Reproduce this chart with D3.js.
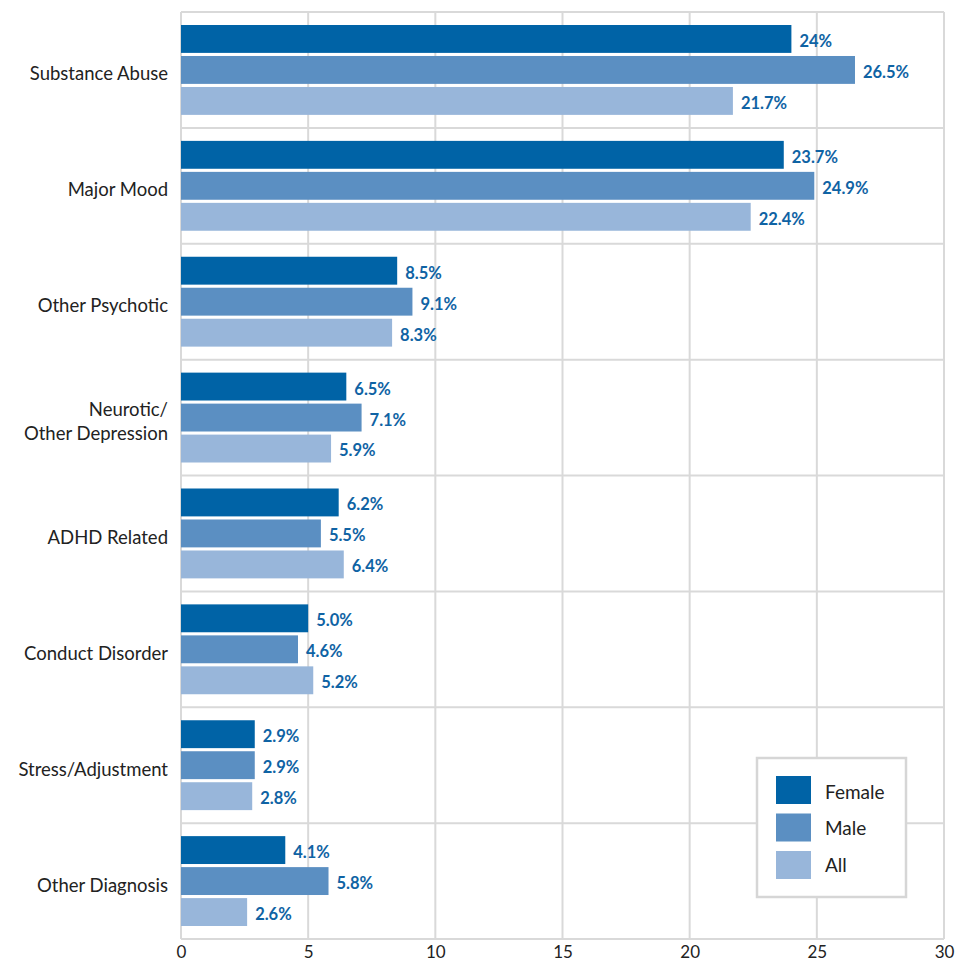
<!DOCTYPE html>
<html>
<head>
<meta charset="utf-8">
<script src="https://cdn.jsdelivr.net/npm/d3@7"></script>
<style>
  html, body { margin: 0; padding: 0; background: #fff; }
  svg text { font-family: Lato, "Open Sans", sans-serif; }
</style>
</head>
<body>
<svg id="chart" width="958" height="966"></svg>
<script>
// Diagnosis categories, top to bottom
const categories = [
  "Substance Abuse", "Major Mood", "Other Psychotic", "Neurotic/\nOther Depression",
  "ADHD Related", "Conduct Disorder", "Stress/Adjustment", "Other Diagnosis"
];
const seriesNames = ["Female", "Male", "All"];
const female = [24, 23.7, 8.5, 6.5, 6.2, 5.0, 2.9, 4.1];
const male   = [26.5, 24.9, 9.1, 7.1, 5.5, 4.6, 2.9, 5.8];
const all    = [21.7, 22.4, 8.3, 5.9, 6.4, 5.2, 2.8, 2.6];
const femaleLabels = ["24%", "23.7%", "8.5%", "6.5%", "6.2%", "5.0%", "2.9%", "4.1%"];
const maleLabels   = ["26.5%", "24.9%", "9.1%", "7.1%", "5.5%", "4.6%", "2.9%", "5.8%"];
const allLabels    = ["21.7%", "22.4%", "8.3%", "5.9%", "6.4%", "5.2%", "2.8%", "2.6%"];
const xTicks = [0, 5, 10, 15, 20, 25, 30];

const colors = ["#0063a6", "#5b8fc2", "#98b6da"];
const series = [
  { name: seriesNames[0], values: female, labels: femaleLabels },
  { name: seriesNames[1], values: male, labels: maleLabels },
  { name: seriesNames[2], values: all, labels: allLabels }
];

const svg = d3.select("#chart");
const plotLeft = 181, plotRight = 944, plotTop = 12, plotBottom = 939;

const x = d3.scaleLinear().domain([0, 30]).range([plotLeft, plotRight]);
const y = d3.scaleBand().domain(categories).range([plotTop, plotBottom]);
const inner = d3.scaleBand().domain(seriesNames)
  .range([13, y.bandwidth() - 13]).paddingInner(0.1);

const grid = "#d9d9d9";

// vertical gridlines
svg.append("g").selectAll("line").data(xTicks).join("line")
  .attr("x1", d => x(d)).attr("x2", d => x(d))
  .attr("y1", plotTop).attr("y2", plotBottom)
  .attr("stroke", grid).attr("stroke-width", 2);

// horizontal category separators (including top and bottom)
const seps = categories.map(c => y(c)).concat([plotBottom]);
svg.append("g").selectAll("line").data(seps).join("line")
  .attr("x1", plotLeft).attr("x2", plotRight)
  .attr("y1", d => d).attr("y2", d => d)
  .attr("stroke", grid).attr("stroke-width", 2);

// bars and value labels
series.forEach((s, si) => {
  const g = svg.append("g");
  g.selectAll("rect").data(s.values).join("rect")
    .attr("x", x(0))
    .attr("y", (d, i) => y(categories[i]) + inner(s.name))
    .attr("width", d => x(d) - x(0))
    .attr("height", inner.bandwidth())
    .attr("fill", colors[si]);
  g.selectAll("text").data(s.values).join("text")
    .attr("x", d => x(d) + 8)
    .attr("y", (d, i) => y(categories[i]) + inner(s.name) + inner.bandwidth() / 2 + 2)
    .attr("dy", "0.36em")
    .attr("font-size", 16.5)
    .attr("font-weight", "bold")
    .attr("fill", "#0f63a4")
    .text((d, i) => s.labels[i]);
});

// category labels
const catG = svg.append("g");
categories.forEach(c => {
  const lines = c.split("\n");
  const cy = y(c) + y.bandwidth() / 2 + 4;
  const lh = 24;
  const t = catG.append("text")
    .attr("text-anchor", "end")
    .attr("font-size", 18.5)
    .attr("fill", "#222");
  lines.forEach((ln, i) => {
    t.append("tspan")
      .attr("x", 168)
      .attr("y", cy + (i - (lines.length - 1) / 2) * lh)
      .attr("dy", "0.35em")
      .text(ln);
  });
});

// x axis labels
const axis = d3.axisBottom(x).tickValues(xTicks).tickSize(0).tickPadding(7);
const ax = svg.append("g").attr("transform", `translate(0,${plotBottom})`).call(axis);
ax.select(".domain").remove();
ax.selectAll("text").attr("font-size", 17).attr("fill", "#222")
  .style("font-family", "Lato, 'Open Sans', sans-serif");

// legend
const lg = svg.append("g");
lg.append("rect").attr("x", 757).attr("y", 758).attr("width", 149).attr("height", 139)
  .attr("fill", "#fff").attr("stroke", "#d6d6d6").attr("stroke-width", 2.5);
series.forEach((s, i) => {
  lg.append("rect").attr("x", 776).attr("y", 776 + i * 37.5)
    .attr("width", 35).attr("height", 28).attr("fill", colors[i]);
  lg.append("text").attr("x", 825).attr("y", 792 + i * 36.5).attr("dy", "0.35em")
    .attr("font-size", 19).attr("fill", "#222").text(s.name);
});
</script>
</body>
</html>
